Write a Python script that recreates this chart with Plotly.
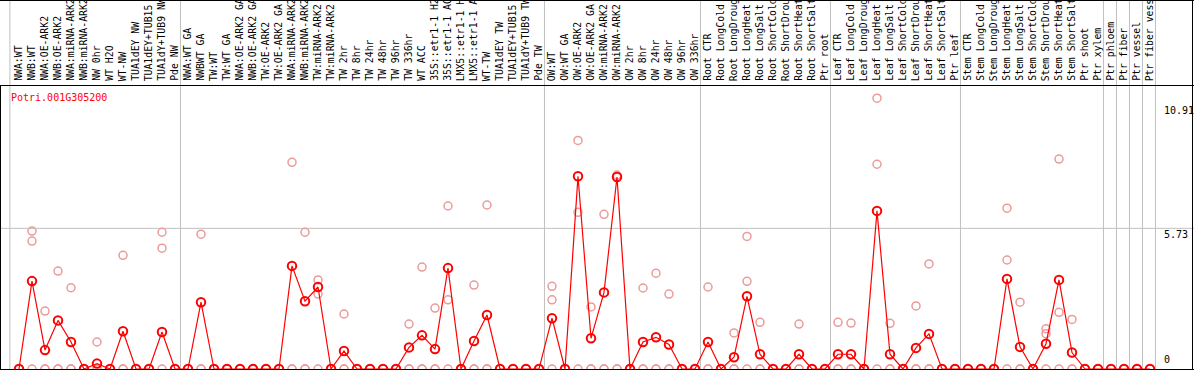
import plotly.graph_objects as go

# ---------------- data ----------------
gene = "Potri.001G305200"

samples = [
    # group 1
    "NWA:WT", "NWB:WT", "NWA:OE-ARK2", "NWB:OE-ARK2", "NWA:miRNA-ARK2", "NWB:miRNA-ARK2",
    "NW 0hr", "WT H2O", "WT-NW", "TUA1dEY NW", "TUA1dEY+TUB15 NW", "TUA1dY+TUB9 NW", "Pde NW",
    # group 2
    "NWA:WT GA", "NWBWT GA", "TW:WT", "TW:WT GA", "NWA:OE-ARK2 GA", "NWB:OE-ARK2 GA",
    "TW:OE-ARK2", "TW:OE-ARK2 GA", "NWA:miRNA-ARK2", "NWB:miRNA-ARK2", "TW:miRNA-ARK2",
    "TW:miRNA-ARK2", "TW 2hr", "TW 8hr", "TW 24hr", "TW 48hr", "TW 96hr", "TW 336hr",
    "WT ACC", "35S::etr1-1 H2O", "35S::etr1-1 ACC", "LMX5::etr1-1 H2O", "LMX5::etr1-1 ACC",
    "WT-TW", "TUA1dEY TW", "TUA1dEY+TUB15 TW", "TUA1dY+TUB9 TW", "Pde TW",
    # group 3
    "OW:WT", "OW:WT GA", "OW:OE-ARK2", "OW:OE-ARK2 GA", "OW:miRNA-ARK2", "OW:miRNA-ARK2",
    "OW 2hr", "OW 8hr", "OW 24hr", "OW 48hr", "OW 96hr", "OW 336hr",
    # group 4
    "Root CTR", "Root LongCold", "Root LongDrought", "Root LongHeat", "Root LongSalt",
    "Root ShortCold", "Root ShortDrought", "Root ShortHeat", "Root ShortSalt", "Ptr root",
    # group 5
    "Leaf CTR", "Leaf LongCold", "Leaf LongDrought", "Leaf LongHeat", "Leaf LongSalt",
    "Leaf ShortCold", "Leaf ShortDrought", "Leaf ShortHeat", "Leaf ShortSalt", "Ptr leaf",
    # group 6
    "Stem CTR", "Stem LongCold", "Stem LongDrought", "Stem LongHeat", "Stem LongSalt",
    "Stem ShortCold", "Stem ShortDrought", "Stem ShortHeat", "Stem ShortSalt", "Ptr shoot",
    "Ptr xylem", "Ptr phloem", "Ptr fiber", "Ptr vessel", "Ptr fiber vessel",
]

mean_values = [
    0, 3.58, 0.77, 1.98, 1.10, 0, 0.22, 0, 1.54, 0, 0, 1.51, 0,
    0, 2.72, 0, 0, 0, 0, 0, 0, 4.20, 2.76, 3.34, 0, 0.73, 0, 0, 0, 0,
    0.88, 1.37, 0.81, 4.11, 0, 1.14, 2.20, 0, 0, 0, 0,
    2.07, 0, 7.85, 1.25, 3.12, 7.82, 0, 1.10, 1.29, 1.00, 0, 0,
    1.10, 0, 0.48, 2.96, 0.60, 0, 0, 0.60, 0, 0,
    0.60, 0.60, 0, 6.44, 0.60, 0, 0.86, 1.43, 0, 0,
    0, 0, 0, 3.67, 0.90, 0, 1.03, 3.63, 0.67, 0,
    0, 0, 0, 0, 0,
]

rep_1 = [
    0, 5.62, 2.36, 3.99, 3.31, 0, 1.10, 0, 4.63, 0, 0, 5.57, 0,
    0, 5.49, 0, 0, 0, 0, 0, 0, 8.42, 5.57, 3.63, 0, 2.24, 0, 0, 0, 0,
    1.83, 4.15, 2.48, 6.64, 0, 3.42, 6.68, 0, 0, 0, 0,
    3.37, 0, 9.31, 2.53, 6.30, 7.90, 0, 3.30, 3.90, 3.05, 0, 0,
    3.34, 0, 1.47, 5.40, 1.90, 0, 0, 1.83, 0, 0,
    1.90, 1.87, 0, 11.03, 1.86, 0, 2.57, 4.28, 0, 0,
    0, 0, 0, 6.55, 2.72, 0, 1.64, 8.55, 2.02, 0,
    0, 0, 0, 0, 0,
]

rep_2 = [
    0, 5.21, 0, 0, 0, 0, 0, 0, 0, 0, 0, 4.92, 0,
    0, 0, 0, 0, 0, 0, 0, 0, 0, 0, 3.05, 0, 0, 0, 0, 0, 0,
    0, 0, 0, 2.82, 0, 0, 0, 0, 0, 0, 0,
    2.82, 0, 6.38, 0, 0, 0, 0, 0, 0, 0, 0, 0,
    0, 0, 0, 3.57, 0, 0, 0, 0, 0, 0,
    0, 0, 0, 8.34, 0, 0, 0, 0, 0, 0,
    0, 0, 0, 4.44, 0, 0, 1.44, 2.31, 0, 0,
    0, 0, 0, 0, 0,
]

rep_3 = [0] * len(samples)

tick_values = [10.91, 5.73, 0]
tick_labels = ["10.91", "5.73", "0"]
group_ends = [12, 40, 52, 62, 72, 83, 84, 85, 86, 87]

# ---------------- layout geometry ----------------
W, H = 1194, 370
PX_STEP = 13.0      # pixels per sample
X_FIRST = 19.0      # pixel of first sample
ZERO_PX = 369.0     # pixel row of value 0 (from top)
SCALE = 24.55       # pixels per unit
HEAD = 85.5         # pixel row of label/plot separator
FONT = "DejaVu Sans Mono"

xr = [-X_FIRST / PX_STEP, (W - X_FIRST) / PX_STEP]
yr = [(ZERO_PX - H) / SCALE, ZERO_PX / SCALE]


def py(pix):
    return 1 - pix / H


def pxp(pix):
    return pix / W


idx = list(range(len(samples)))

fig = go.Figure()

rx, ry = [], []
for rep in (rep_1, rep_2, rep_3):
    rx += idx
    ry += rep
fig.add_trace(go.Scatter(
    x=rx, y=ry, mode="markers",
    marker=dict(symbol="circle-open", size=8, color="#ec9a9a", line=dict(width=1.5, color="#ec9a9a")),
    hoverinfo="skip", showlegend=False,
))
fig.add_trace(go.Scatter(
    x=idx, y=mean_values, mode="lines+markers",
    line=dict(color="#ff0000", width=1.2),
    marker=dict(symbol="circle-open", size=8.5, color="#ff0000", line=dict(width=2, color="#ff0000")),
    text=samples, showlegend=False,
))

shapes = []
# vertical separators
sep_positions = [-0.7] + [g + 0.42 for g in group_ends]
for s in sep_positions:
    shapes.append(dict(type="line", xref="x", yref="paper", x0=s, x1=s, y0=0, y1=1,
                       line=dict(color="#c0c0c0", width=1), layer="below"))
# horizontal grid at middle tick
shapes.append(dict(type="line", xref="paper", yref="y", x0=0, x1=1, y0=tick_values[1], y1=tick_values[1],
                   line=dict(color="#c0c0c0", width=1), layer="below"))
# black frame
blk = dict(color="#000000", width=1)
shapes += [
    dict(type="line", xref="paper", yref="paper", x0=0, x1=1, y0=py(0.5), y1=py(0.5), line=blk),
    dict(type="line", xref="paper", yref="paper", x0=0, x1=1, y0=py(HEAD), y1=py(HEAD), line=blk),
    dict(type="line", xref="paper", yref="paper", x0=0, x1=1, y0=py(369.5), y1=py(369.5), line=blk),
    dict(type="line", xref="paper", yref="paper", x0=pxp(0.5), x1=pxp(0.5), y0=py(HEAD), y1=py(370), line=blk),
    dict(type="line", xref="paper", yref="paper", x0=pxp(1192.5), x1=pxp(1192.5), y0=0, y1=1, line=blk),
]

annotations = []
for i, lab in enumerate(samples):
    annotations.append(dict(
        x=i - 0.05, y=py(83), xref="x", yref="paper", text=lab, textangle=-90,
        showarrow=False, xanchor="center", yanchor="bottom",
        font=dict(family=FONT, size=9.8, color="#000000"),
    ))
annotations.append(dict(
    x=pxp(9), y=py(97), xref="paper", yref="paper", text=gene, showarrow=False,
    xanchor="left", yanchor="middle", font=dict(family=FONT, size=10, color="#ff0000"),
))
tick_tops = [103, 227, None]
for v, lab, tp in zip(tick_values, tick_labels, tick_tops):
    if tp is None:
        annotations.append(dict(x=pxp(1162), y=py(367), xref="paper", yref="paper", text=lab,
                                showarrow=False, xanchor="left", yanchor="bottom",
                                font=dict(family=FONT, size=10, color="#000000")))
    else:
        annotations.append(dict(x=pxp(1162), y=py(tp), xref="paper", yref="paper", text=lab,
                                showarrow=False, xanchor="left", yanchor="top",
                                font=dict(family=FONT, size=10, color="#000000")))

fig.update_layout(
    width=W, height=H, margin=dict(l=0, r=0, t=0, b=0),
    paper_bgcolor="#ffffff", plot_bgcolor="#ffffff",
    xaxis=dict(range=xr, visible=False, showgrid=False, zeroline=False, fixedrange=True),
    yaxis=dict(range=yr, visible=False, showgrid=False, zeroline=False, fixedrange=True),
    shapes=shapes, annotations=annotations, showlegend=False,
)

fig.write_html(
    "out.html",
    config={"displayModeBar": False},
    post_script="document.body.style.margin='0';document.body.style.padding='0';document.body.style.overflow='hidden';",
)
